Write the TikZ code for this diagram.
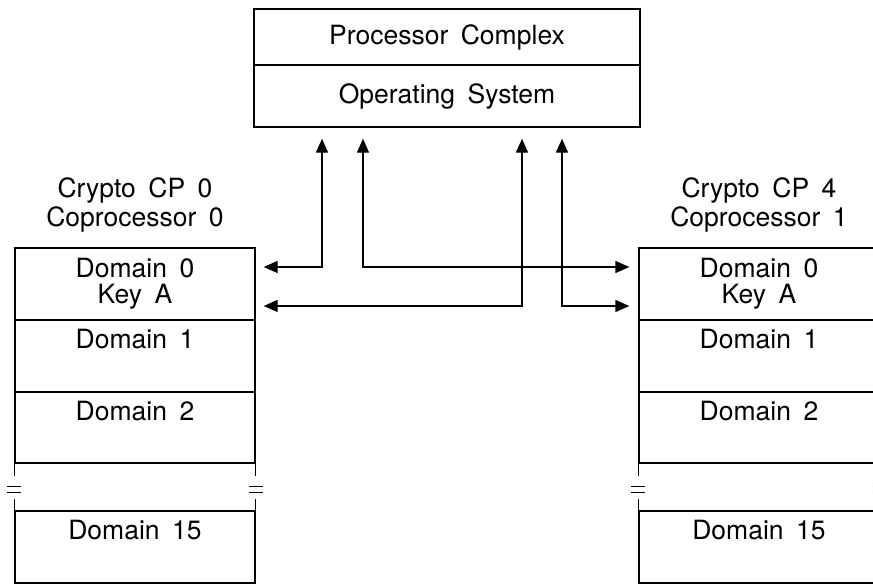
\documentclass[tikz,border=0pt]{standalone}
\usepackage{fontspec}
\setmainfont{TeX Gyre Heros}[WordSpace=1.7]
\usetikzlibrary{arrows.meta,positioning,calc}
\tikzset{
  cell/.style={draw, line width=1.3pt, minimum width=240pt, minimum height=72pt,
               inner sep=0pt, align=center},
  pcbox/.style={draw, line width=1.3pt, minimum width=386pt, inner sep=0pt, align=center},
  lab/.style={align=center, inner sep=0pt},
  dblarr/.style={{Triangle[length=14pt,width=12pt]}-{Triangle[length=14pt,width=12pt]}, line width=1.3pt},
  brk/.style={line width=1.3pt},
}

\begin{document}
\begin{tikzpicture}[x=1pt, y=-1pt, font=\fontsize{26.5}{26}\selectfont]
    \clip (0,0) rectangle (873,584);
    % processor complex
    \node[pcbox, minimum height=56pt] (pc) at (447,37) {Processor Complex};
    \node[pcbox, minimum height=62pt] (os) at (447,96) {Operating System};
    % left coprocessor
    \node[lab] (lt) at (135,205) {Crypto CP 0\\[3pt]Coprocessor 0};
    \node[cell] (l0) at (135,284) {Domain 0\\Key A};
    \node[cell] (l1) at (135,356) {Domain 1\\ \strut};
    \node[cell, minimum height=71pt] (l2) at (135,427.5) {Domain 2\\ \strut};
    \node[cell] (l15) at (135,547) {Domain 15\\ \strut};
    % right coprocessor
    \node[lab] (rt) at (759,205) {Crypto CP 4\\[3pt]Coprocessor 1};
    \node[cell] (r0) at (759,284) {Domain 0\\Key A};
    \node[cell] (r1) at (759,356) {Domain 1\\ \strut};
    \node[cell, minimum height=71pt] (r2) at (759,427.5) {Domain 2\\ \strut};
    \node[cell] (r15) at (759,547) {Domain 15\\ \strut};
    % breaks in the stacks
    \foreach \s/\e in {l2/l15, r2/r15} {
      \draw[brk] (\s.south west) -- ++(0,12) (\s.south east) -- ++(0,12);
      \draw[brk] (\e.north west) -- ++(0,-11) (\e.north east) -- ++(0,-11);
      \draw[brk] ($(\s.south west)+(-7,23)$) -- ++(14,0) ($(\s.south west)+(-7,29)$) -- ++(14,0);
      \draw[brk] ($(\s.south east)+(-7,23)$) -- ++(14,0) ($(\s.south east)+(-7,29)$) -- ++(14,0);
    }
    % paths to the operating system
    \draw[dblarr] ([xshift=8pt,yshift=17pt]l0.east) -| ([xshift=-125pt,yshift=-11pt]os.south);
    \draw[dblarr] ([xshift=75pt,yshift=-11pt]os.south) |- ([xshift=8pt,yshift=-22pt]l0.east);
    \draw[dblarr] ([xshift=-84pt,yshift=-11pt]os.south) |- ([xshift=-9pt,yshift=17pt]r0.west);
    \draw[dblarr] ([xshift=115pt,yshift=-11pt]os.south) |- ([xshift=-9pt,yshift=-22pt]r0.west);
  \end{tikzpicture}
\end{document}
